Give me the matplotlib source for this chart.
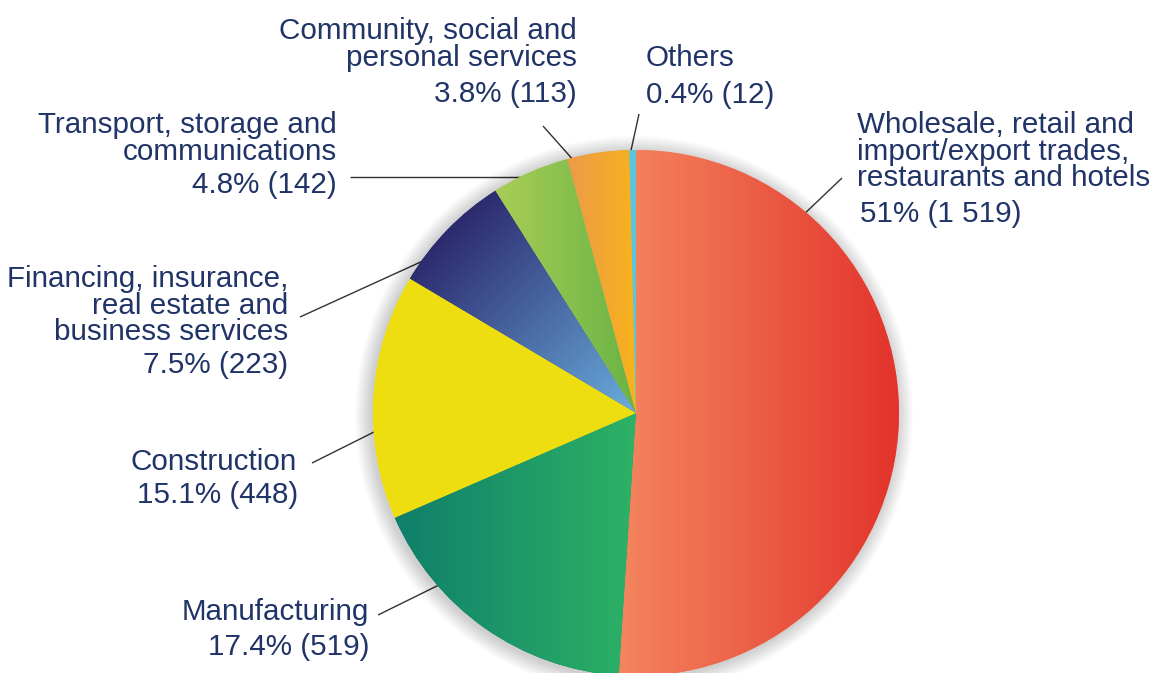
import numpy as np
import matplotlib.pyplot as plt
from matplotlib.patches import Circle
from matplotlib.colors import to_rgb

# ---- data ----------------------------------------------------------------
categories = [
    "Wholesale, retail and\nimport/export trades,\nrestaurants and hotels",
    "Manufacturing",
    "Construction",
    "Financing, insurance,\nreal estate and\nbusiness services",
    "Transport, storage and\ncommunications",
    "Community, social and\npersonal services",
    "Others",
]
shares = ["51%", "17.4%", "15.1%", "7.5%", "4.8%", "3.8%", "0.4%"]
counts = [1519, 519, 448, 223, 142, 113, 12]
count_labels = ["1 519", "519", "448", "223", "142", "113", "12"]

# gradient fill for each slice: start colour, end colour, direction (deg)
grad_start = ["#f4865f", "#0f7f6b", "#eede10", "#2c2a6e", "#a9ce56", "#ec9a49", "#5cc5dc"]
grad_end = ["#e3332c", "#2db265", "#eede10", "#6aaedd", "#69b345", "#f8b31c", "#5cc5dc"]
grad_dir = [0, 0, 0, -45, 0, 0, 0]

# ---- layout (pixel units, y measured from the top) -----------------------
W, H = 1152, 673
CX, CY, R = 636, 413, 263
TEXT_COLOR = "#213468"
LINE_STEP = 26.5
FS = 21.3

label_x = [857, 369, 297, 288, 337, 577, 646]
label_ha = ["left", "right", "right", "right", "right", "right", "left"]
name_base = [133, 620, 470, 287, 133, 39, 66]
value_base = [222, 655, 503, 373, 193, 102, 103]
value_x = [860, 369, 298, 288, 337, 577, 646]
leaders = [
    ((842, 178), (800, 218)),
    ((378, 615), (445, 582)),
    ((312, 463), (380, 429)),
    ((300, 317), (425, 260)),
    ((350, 177), (530, 177)),
    ((543, 126), (575, 162)),
    ((639, 114), (630, 155)),
]


def Y(y):
    return H - y


plt.rcParams['font.family'] = ['Liberation Sans', 'DejaVu Sans']

fig = plt.figure(figsize=(W / 100, H / 100), dpi=100)
ax = fig.add_axes([0, 0, 1, 1])
ax.set_xlim(0, W)
ax.set_ylim(0, H)
ax.axis('off')

# leader lines (under the pie)
for (x0, y0), (x1, y1) in leaders:
    ax.plot([x0, x1], [Y(y0), Y(y1)], color="#333333", lw=1.0, zorder=0,
            solid_capstyle='butt')

# soft shadow round the pie
for k in range(16):
    ax.add_patch(Circle((CX - 2, Y(CY) - 2), R + 16 - k, facecolor='black',
                        edgecolor='none', alpha=0.010, zorder=1))

wedges, _ = ax.pie(counts, center=(CX, Y(CY)), radius=R, startangle=90,
                   counterclock=False, colors=grad_start,
                   wedgeprops=dict(linewidth=0, zorder=2), frame=True)
ax.set_xlim(0, W)
ax.set_ylim(0, H)
ax.set_aspect('auto')
ax.axis('off')

# gradient images clipped to each wedge
n = 700
xs = np.linspace(CX - R - 2, CX + R + 2, n)
ys = np.linspace(Y(CY) - R - 2, Y(CY) + R + 2, n)
gx, gy = np.meshgrid(xs, ys)
for w, c0, c1, d in zip(wedges, grad_start, grad_end, grad_dir):
    ang = np.linspace(np.radians(w.theta1), np.radians(w.theta2), 100)
    px = np.append(CX + R * np.cos(ang), CX)
    py = np.append(Y(CY) + R * np.sin(ang), Y(CY))
    ux, uy = np.cos(np.radians(d)), np.sin(np.radians(d))
    proj = px * ux + py * uy
    t = (gx * ux + gy * uy - proj.min()) / max(proj.max() - proj.min(), 1e-9)
    t = np.clip(t, 0, 1)[..., None]
    img = np.array(to_rgb(c0)) * (1 - t) + np.array(to_rgb(c1)) * t
    im = ax.imshow(img, extent=(xs[0], xs[-1], ys[0], ys[-1]), origin='lower',
                   aspect='auto', zorder=3, interpolation='bilinear')
    im.set_clip_path(w)

ax.set_xlim(0, W)
ax.set_ylim(0, H)

# labels
for i, name in enumerate(categories):
    for j, line in enumerate(name.split("\n")):
        ax.text(label_x[i], Y(name_base[i] + j * LINE_STEP), line,
                ha=label_ha[i], va='baseline', fontsize=FS, color=TEXT_COLOR)
    ax.text(value_x[i], Y(value_base[i]), f"{shares[i]} ({count_labels[i]})",
            ha=label_ha[i], va='baseline', fontsize=FS, color=TEXT_COLOR)

fig.savefig("out.png", dpi=100)
